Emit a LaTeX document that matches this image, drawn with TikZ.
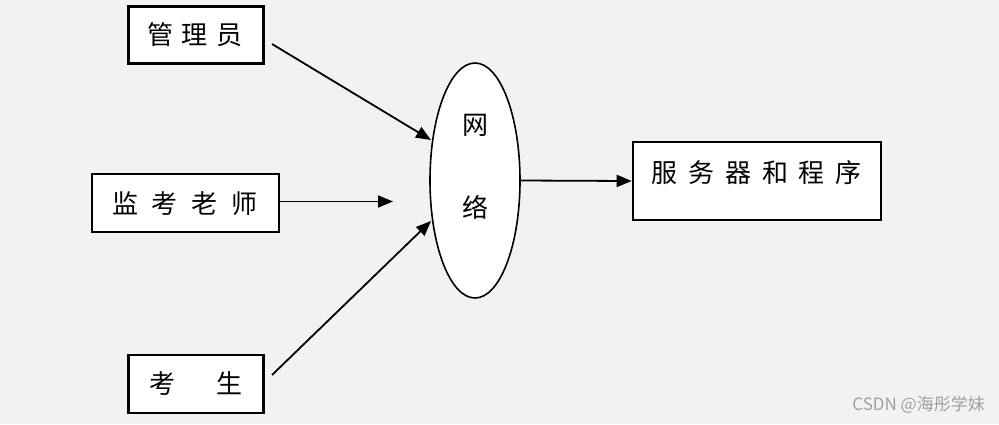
\documentclass[tikz,border=0pt]{standalone}
\usepackage{fontspec}
\setmainfont{Noto Sans CJK SC}
\usetikzlibrary{arrows.meta,shapes.geometric}
\definecolor{bg}{HTML}{F2F2F2}
\definecolor{wm}{HTML}{A0A0A0}
\tikzset{
  box/.style={draw=black,fill=white,line width=2.6pt,inner sep=0pt},
  net/.style={draw=black,fill=white,ellipse,line width=1.6pt,inner sep=0pt,minimum width=90pt,minimum height=235pt},
  arr/.style={line width=1.8pt,-{Triangle[length=15pt,width=12pt]}},
  txt/.style={font=\fontsize{26}{30}\selectfont,inner sep=0pt}
}
\newcommand{\gp}[1]{\hspace{#1pt}}
\begin{document}
\begin{tikzpicture}[x=1pt,y=-1pt]
\fill[bg] (0,0) rectangle (999,424);
\useasboundingbox (0,0) rectangle (999,424);
% boxes
\node[box,minimum width=135pt,minimum height=57pt] (mgr) at (196,35) {};
\node[txt] (mgrt) at (195,35) {管\gp{9}理\gp{9}员};
\node[box,minimum width=187pt,minimum height=58pt] (tch) at (185.5,203) {};
\node[txt] (tcht) at (185,204) {监\gp{14}考\gp{14}老\gp{14}师};
\node[box,minimum width=135pt,minimum height=58pt] (stu) at (196,384) {};
\node[txt] (stut) at (196,384) {考\gp{42}生};
\node[box,minimum width=248pt,minimum height=78pt] (srv) at (757,181) {};
\node[txt] (srvt) at (756.5,173) {服\gp{11}务\gp{11}器\gp{11}和\gp{11}程\gp{11}序};
% ellipse
\node[net] (netw) at (475,180.5) {};
\node[txt] (n1) at (475,125) {网};
\node[txt] (n2) at (475,207) {络};
% connector endpoints
\coordinate (a1s) at (272,44);
\coordinate (a1e) at (431,140);
\coordinate (a2e) at (393,201.5);
\coordinate (a3s) at (272,375);
\coordinate (a3e) at (431,221);
\draw[arr] (a1s) -- (a1e);
\draw[arr] (tch.east |- a2e) -- (a2e);
\draw[arr] (a3s) -- (a3e);
\draw[arr] (netw.east) -- (srv.west);
% watermark
\node[font=\fontsize{17}{19}\selectfont,text=wm,anchor=east,inner sep=0pt] (wmk) at (985,405) {CSDN @海彤学妹};
\end{tikzpicture}
\end{document}
